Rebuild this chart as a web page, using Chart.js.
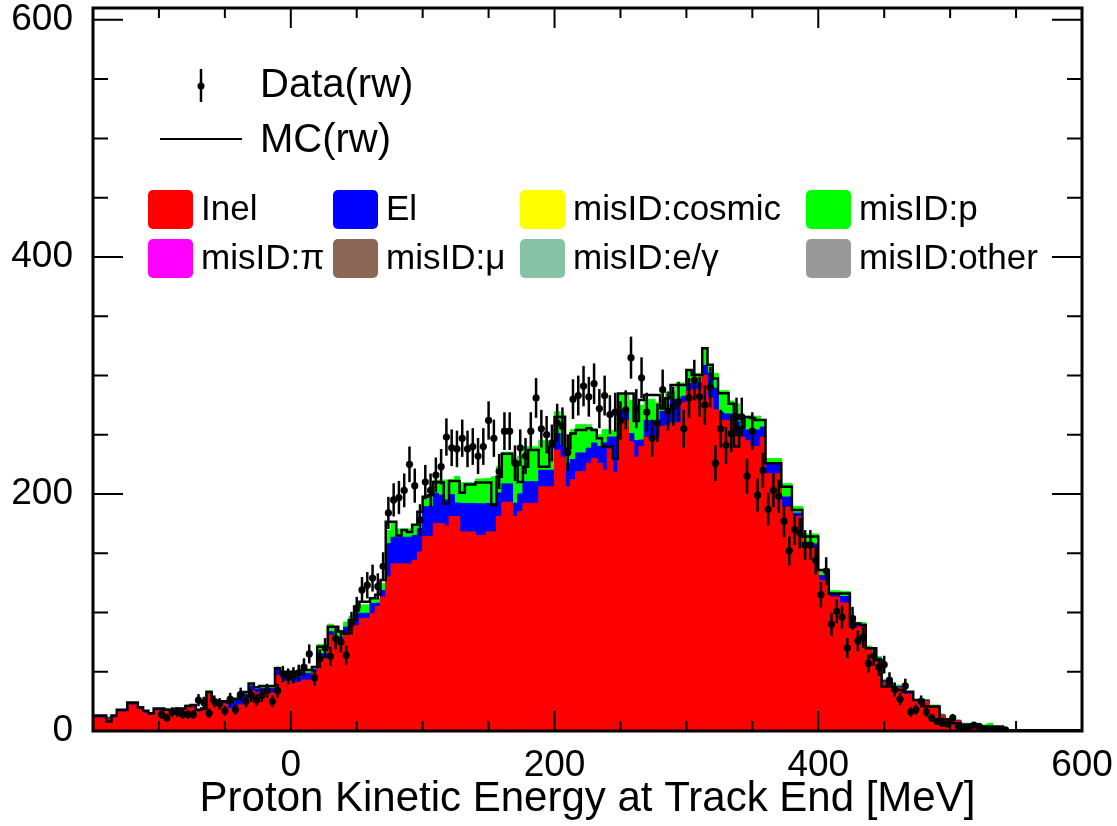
<!DOCTYPE html>
<html>
<head>
<meta charset="utf-8">
<title>Proton Kinetic Energy at Track End</title>
<script src="https://cdn.jsdelivr.net/npm/chart.js@4.4.1/dist/chart.umd.min.js"></script>
<style>
  html, body { margin: 0; padding: 0; background: #fff; }
  #wrap { width: 1117px; height: 826px; }
</style>
</head>
<body>
<div id="wrap"><canvas id="chart" width="1117" height="826"></canvas></div>
<script>
// binning: 4 MeV bins, edges on multiples of 4 (first bin is cut by the axis at -150)
const binLow = -152;
const binWidth = 4;

const xTicks = [0, 200, 400, 600];
const yTicks = [0, 200, 400, 600];

// stacked MC components, one value per bin
const inel = [
  11, 11, 11, 10, 11, 16, 16, 22, 22, 18,
  15, 13, 17, 17, 17, 16, 17, 17, 20, 20,
  16, 17, 32, 24, 23, 23, 19, 18, 22, 26,
  34, 32, 33, 32, 32, 47, 42, 42, 41, 41,
  43, 43, 49, 61, 61, 81, 75, 75, 82, 88,
  89, 95, 95, 99, 105, 113, 130, 141, 141, 141,
  141, 144, 151, 164, 164, 175, 175, 173, 181, 181,
  168, 168, 168, 165, 165, 168, 168, 181, 193, 193,
  181, 185, 192, 192, 192, 206, 206, 206, 237, 231,
  206, 212, 219, 219, 226, 230, 226, 220, 238, 218,
  262, 262, 244, 231, 240, 248, 248, 248, 257, 258,
  260, 260, 277, 287, 288, 288, 300, 281, 271, 262,
  262, 262, 254, 248, 245, 240, 240, 248, 217, 217,
  217, 189, 189, 181, 181, 155, 155, 155, 127, 127,
  113, 113, 108, 108, 91, 88, 88, 69, 63, 60,
  41, 41, 36.5, 36.5, 31, 31, 25, 25, 25, 20,
  20, 13, 9.5, 9.5, 8.5, 5.5, 5.5, 3, 3, 3,
  3, 2, 2, 1, 1, 1, 1, 1, 1, 1,
  1, 1, 1, 1, 1, 1, 1, 1
];
const el = [
  1, 1, 1, 1, 1, 1, 1, 1, 1, 1,
  1, 1, 1, 1, 1, 1, 1, 1, 1, 1,
  1, 1, 1, 1, 1, 1, 3, 8, 8, 5,
  4, 3, 3, 4, 4, 5, 5, 6, 4.5, 4.5,
  5.7, 5.7, 2.8, 4.2, 4.2, 2.8, 4.2, 4.2, 5.6, 3.4,
  9.9, 4.3, 4.3, 8.5, 2.9, 5.6, 28, 22.5, 22.5, 22.5,
  22.5, 21, 19.7, 25.3, 25.3, 25.4, 24, 22, 18.3, 11.3,
  24, 24, 24, 26.7, 26.7, 24, 24, 19.8, 15.5, 15.5,
  11.2, 15, 18.3, 18.3, 18.3, 14, 14, 14, 14, 10,
  19.8, 17, 15.6, 15.6, 12.6, 13, 14, 23, 10, 30,
  8.3, 8.3, 7, 14, 5.5, 14, 14, 14, 12.7, 14,
  19.7, 19.7, 5.4, 6, 6, 6, 8.5, 21, 18.3, 7,
  5.5, 5.5, 7, 7, 9, 14, 14, 8.4, 8.6, 8.6,
  8.6, 8.4, 8.4, 2.8, 2.8, 2.8, 2.8, 2.8, 4.2, 4.2,
  2.8, 2.8, 5.5, 5.5, 1.4, 2.8, 2, 1.5, 1.5, 1.5,
  1.5, 1.5, 1, 1, 1, 1, 1, 1, 1, 1,
  1, 0.5, 0.5, 0.5, 0.5, 0.5, 0.5, 0.3, 0.3, 0.3,
  0.3, 0.1, 0.1, 0, 0, 0, 0, 0, 0, 0,
  0, 0, 0, 0, 0, 0, 0, 0
];
const misIdP = [
  1, 1, 1, 1, 1, 1, 1, 1, 1, 1,
  1, 1, 1, 1, 1, 1, 1, 1, 1, 1,
  1, 1, 1, 1, 1, 1, 2, 2, 2, 2,
  2, 2, 2, 2, 2, 2, 2, 2, 5.3, 5.3,
  3.3, 3.3, 2.8, 7.9, 7.9, 6.3, 5.8, 5.8, 4.4, 5.2,
  7.1, 7.1, 7.1, 4.2, 4.2, 5.7, 11.2, 12.7, 7, 7,
  7, 8.4, 9.8, 7, 7, 11.2, 12.7, 16.8, 12.7, 22.5,
  17.5, 17.5, 17.5, 21, 21, 21, 22.5, 22.4, 26.7, 26.7,
  38, 32, 29.5, 29.5, 29.5, 25.2, 25.2, 22.4, 18.3, 25.3,
  12.5, 25.2, 23.8, 23.8, 19.7, 12, 10, 11.3, 5.7, 5.7,
  13.9, 13.9, 27.8, 29.3, 29.3, 17.9, 17.9, 15, 9.5, 13.8,
  6.8, 14, 11.3, 11.5, 7.7, 7.7, 14, 7.3, 12.5, 18,
  19.6, 11, 15, 9.2, 11.6, 11.6, 11.6, 6.5, 4.3, 4.3,
  4.3, 11.3, 11.3, 5.7, 5.7, 8.5, 8.5, 8.5, 4.2, 4.2,
  2.5, 2.5, 4.3, 4.3, 4.3, 1, 1.4, 1.2, 1, 1.2,
  1.1, 1.1, 1.3, 1.3, 1.2, 1.2, 0.6, 0.6, 0.6, 0.9,
  0.9, 0.8, 0.7, 0.7, 0.3, 0.5, 0.5, 0.4, 0.4, 1.8,
  3.2, 0.2, 0.2, 0, 0, 0, 0, 0, 0, 0,
  0, 0, 0, 0, 0, 0, 0, 0
];
// reweighted MC total (black line)
const mcTotal = [
  13, 13, 13, 8, 13, 18, 18, 24, 24, 20,
  17, 15, 19, 19, 18, 18, 19, 19, 21, 22,
  18, 19, 33, 26, 25, 25, 24, 27, 31, 33,
  40, 37, 38, 38, 38, 53, 49, 50, 50, 50,
  51.5, 51.5, 54, 71, 71, 88, 88, 84, 82, 93.5,
  105, 109, 109, 112, 115, 127.5, 176.6, 176.6, 165, 169.6,
  168, 174, 185, 197.7, 199, 210, 209.6, 192, 211, 211,
  201, 208, 208, 209.6, 209.6, 209.6, 190.7, 214.6, 234, 234,
  227, 210, 223, 237, 237, 223, 223, 240, 265, 265,
  238.5, 251, 254, 254, 255.4, 254, 247, 240, 240, 230,
  284.7, 284.7, 284.7, 261.6, 279.3, 283.5, 283.5, 283.5, 272.3, 280.7,
  292, 292, 292, 304.5, 300.3, 300.3, 323, 309, 297.5, 285,
  285, 276, 240, 256, 265, 264, 262.4, 262.4, 226, 226,
  226, 206, 206, 186.5, 186.5, 164, 164, 164, 135.8, 135.8,
  116, 116, 116, 116, 88, 90.8, 89.4, 69.8, 69.8, 60,
  37.4, 40.2, 34.6, 34.6, 33.2, 33.2, 26.2, 26.2, 20.6, 20.6,
  20.6, 9.9, 9.9, 6.5, 6.5, 5.1, 5.1, 3.7, 3.7, 3.7,
  3.7, 3.7, 3.7, 0.5, 0.5, 0.5, 0.5, 0.5, 0.5, 0.5,
  0.5, 0.5, 0.5, 0.5, 0.5, 0.5, 0.5, 0.5
];
// reweighted data counts (null = empty bin)
const dataCounts = [
  null, null, null, null, null, null, null, null, null, null,
  null, null, null, 14, 11, 16, 16, 14, 14, 14,
  26, 24, 15, 25, 23, 17, 27, 18, 31, 25,
  30, 26, 30, 34, 25, 34, 48, 46, 47, 49,
  54, 65, 45, 61, 70, 63, 78, 75, 64, 91,
  103, 119, 123, 129, 122, 139, 184, 195, 197, 203,
  225, 207, 178, 210, 203, 216, 223, 248, 239, 238,
  247, 238, 240, 232, 240, 262, 247, 219, 253, 253,
  226, 239, 232, 253, 281, 255, 250, 243, 260, 257,
  235, 280, 283, 291, 282, 293, 272, 283, 267, 269,
  262, 271, 315, 272, 298, 269, 247, 260, 288, 270,
  274, 278, 255, 281, 296, 282, 275, 290, 226, 255,
  241, 251, 265, 265, 215, 253, 199, 220, 187, 203,
  198, 177, 152, 170, 167, 157, 157, 144, 115, 135,
  90, 101, 96, 70, 95, 76, 79, 57, 63, 54,
  56, 43, 35, 27, 38, 16, 18, 25, 16, 11,
  8, 6.5, 6, 11, 4, 2.3, 3, 5, 4, 1,
  1, 1, 1, 1, null, null, null, null, null, null,
  null, null, null, null, null, null, null, null
];

const FONT = '"Liberation Sans", Arial, Helvetica, sans-serif';

// histogram outline points: flat top over each bin
function stepPoints(values) {
  const pts = [];
  values.forEach((v, i) => {
    const lo = binLow + i * binWidth;
    pts.push({ x: lo, y: v }, { x: lo + binWidth, y: v });
  });
  return pts;
}

const blueTop = inel.map((v, i) => v + el[i]);
const greenTop = blueTop.map((v, i) => v + misIdP[i]);
const dataPoints = [];
dataCounts.forEach((v, i) => {
  if (v !== null) dataPoints.push({ x: binLow + (i + 0.5) * binWidth, y: v });
});

// Poisson error bars on the data
const errorBars = {
  id: 'errorBars',
  beforeDatasetDraw(chart, args) {
    if (args.index !== 0) return;
    const { ctx, chartArea, scales: { x, y } } = chart;
    ctx.save();
    ctx.beginPath();
    ctx.rect(chartArea.left, chartArea.top, chartArea.width, chartArea.height);
    ctx.clip();
    ctx.strokeStyle = '#000';
    ctx.lineWidth = 2.5;
    dataPoints.forEach(p => {
      const err = Math.sqrt(p.y);
      const px = x.getPixelForValue(p.x);
      ctx.beginPath();
      ctx.moveTo(px, y.getPixelForValue(Math.max(p.y - err, 0)));
      ctx.lineTo(px, y.getPixelForValue(p.y + err));
      ctx.stroke();
    });
    ctx.restore();
  }
};

// ROOT-like frame with inward ticks on all four sides
const frame = {
  id: 'frame',
  afterDraw(chart) {
    const { ctx, chartArea: a, scales: { x, y } } = chart;
    ctx.save();
    ctx.strokeStyle = '#000';
    ctx.lineWidth = 2;
    for (let v = -100; v < 600; v += 50) {
      const px = x.getPixelForValue(v);
      const len = v % 200 === 0 ? 20 : 10;
      ctx.beginPath();
      ctx.moveTo(px, a.bottom); ctx.lineTo(px, a.bottom - len);
      ctx.moveTo(px, a.top); ctx.lineTo(px, a.top + len);
      ctx.stroke();
    }
    for (let v = 50; v <= 600; v += 50) {
      const py = y.getPixelForValue(v);
      const len = v % 200 === 0 ? 30 : 15;
      ctx.beginPath();
      ctx.moveTo(a.left, py); ctx.lineTo(a.left + len, py);
      ctx.moveTo(a.right, py); ctx.lineTo(a.right - len, py);
      ctx.stroke();
    }
    ctx.lineWidth = 3;
    ctx.strokeRect(a.left, a.top, a.width, a.height);
    ctx.restore();
  }
};

// legend drawn by hand: ROOT layout does not fit Chart.js legend
const legendEntries = [
  { text: 'Inel', color: '#ff0000' },
  { text: 'El', color: '#0000ff' },
  { text: 'misID:cosmic', color: '#ffff00' },
  { text: 'misID:p', color: '#00ff00' },
  { text: 'misID:\u03c0', color: '#ff00ff' },
  { text: 'misID:\u03bc', color: '#8c6758' },
  { text: 'misID:e/\u03b3', color: '#86c2a6' },
  { text: 'misID:other', color: '#999999' }
];
const legendCols = [148, 333, 520, 806];
const legendRows = [190, 239];

const rootLegend = {
  id: 'rootLegend',
  afterDraw(chart) {
    const ctx = chart.ctx;
    ctx.save();
    ctx.fillStyle = '#000';
    ctx.strokeStyle = '#000';
    // Data(rw)
    ctx.lineWidth = 2.5;
    ctx.beginPath();
    ctx.moveTo(201, 69); ctx.lineTo(201, 102);
    ctx.stroke();
    ctx.beginPath();
    ctx.arc(201, 86, 3.5, 0, Math.PI * 2);
    ctx.fill();
    // MC(rw)
    ctx.lineWidth = 2;
    ctx.beginPath();
    ctx.moveTo(160, 139); ctx.lineTo(242, 139);
    ctx.stroke();
    ctx.font = '40px ' + FONT;
    ctx.textBaseline = 'alphabetic';
    ctx.fillText('Data(rw)', 260, 97);
    ctx.fillText('MC(rw)', 260, 152);

    ctx.font = '35px ' + FONT;
    legendEntries.forEach((e, i) => {
      const bx = legendCols[i % 4];
      const by = legendRows[Math.floor(i / 4)];
      ctx.fillStyle = e.color;
      ctx.beginPath();
      ctx.roundRect(bx, by, 45, 39, 5);
      ctx.fill();
      ctx.fillStyle = '#000';
      ctx.fillText(e.text, bx + 53, by + 30);
    });
    ctx.restore();
  }
};

function histSet(label, values, color, order) {
  return {
    label: label,
    data: stepPoints(values),
    borderColor: color,
    backgroundColor: color,
    borderWidth: 1,
    pointRadius: 0,
    fill: 'origin',
    order: order
  };
}

new Chart(document.getElementById('chart'), {
  type: 'line',
  data: {
    datasets: [
      {
        label: 'Data(rw)',
        data: dataPoints,
        showLine: false,
        pointRadius: 3.6,
        pointBorderWidth: 0,
        pointBackgroundColor: '#000',
        order: 0
      },
      {
        label: 'MC(rw)',
        data: stepPoints(mcTotal),
        borderColor: '#000',
        borderWidth: 2.5,
        pointRadius: 0,
        fill: false,
        order: 1
      },
      histSet('Inel', inel, '#ff0000', 2),
      histSet('El', blueTop, '#0000ff', 3),
      histSet('misID:p', greenTop, '#00ff00', 4)
    ]
  },
  options: {
    responsive: false,
    animation: false,
    events: [],
    layout: { padding: { left: 0, right: 35, top: 8, bottom: 0 } },
    plugins: {
      legend: { display: false },
      tooltip: { enabled: false }
    },
    scales: {
      x: {
        type: 'linear',
        min: -150,
        max: 600,
        afterBuildTicks: s => { s.ticks = xTicks.map(v => ({ value: v })); },
        ticks: {
          color: '#000',
          font: { family: FONT, size: 37 },
          padding: 13,
          maxRotation: 0,
          autoSkip: false
        },
        grid: { display: false, drawTicks: false },
        border: { display: false },
        title: {
          display: true,
          text: 'Proton Kinetic Energy at Track End [MeV]',
          color: '#000',
          font: { family: FONT, size: 42 },
          padding: { top: 0, bottom: 1 }
        },
        afterFit: s => { s.height = 95; s.paddingLeft = 0; s.paddingRight = 0; }
      },
      y: {
        min: 0,
        max: 610,
        afterBuildTicks: s => { s.ticks = yTicks.map(v => ({ value: v })); },
        ticks: {
          color: '#000',
          font: { family: FONT, size: 37 },
          padding: 20
        },
        grid: { display: false, drawTicks: false },
        border: { display: false },
        afterFit: s => { s.width = 93; s.paddingTop = 0; s.paddingBottom = 0; }
      }
    }
  },
  plugins: [errorBars, frame, rootLegend]
});
</script>
</body>
</html>
